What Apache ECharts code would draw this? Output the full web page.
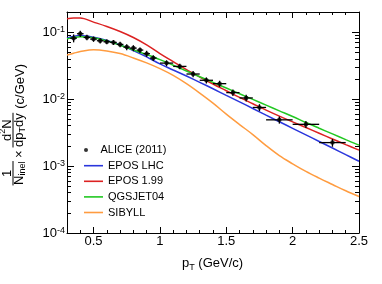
<!DOCTYPE html>
<html><head><meta charset="utf-8">
<script src="https://cdn.jsdelivr.net/npm/echarts@6/dist/echarts.min.js"></script>
<style>html,body{margin:0;padding:0;background:#fff}#c{width:382px;height:284px}</style>
</head><body><div id="c"></div>
<script>
const FONT = '"Liberation Sans", Arial, Helvetica, sans-serif';

// ALICE (2011) data points
const aliceX = [0.35,0.40,0.45,0.50,0.55,0.60,0.65,0.70,0.75,0.80,0.85,0.90,0.95,1.05,1.15,1.25,1.35,1.45,1.55,1.65,1.75,1.9,2.1,2.3];
const aliceY = [0.0814,0.0946,0.0834,0.0787,0.0744,0.0719,0.0703,0.0656,0.0598,0.0578,0.0540,0.0477,0.0410,0.0345,0.0308,0.0237,0.0191,0.0170,0.0125,0.0104,0.0075,0.0049,0.0042,0.00224];
const aliceXErr = [0.025,0.025,0.025,0.025,0.025,0.025,0.025,0.025,0.025,0.025,0.025,0.025,0.025,0.05,0.05,0.05,0.05,0.05,0.05,0.05,0.05,0.1,0.1,0.1];
const aliceYErr = [0.011,0.010,0.008,0.007,0.007,0.006,0.006,0.006,0.006,0.006,0.005,0.005,0.004,0.0035,0.003,0.0025,0.002,0.0018,0.0014,0.0012,0.0009,0.0006,0.0005,0.0003];

// model curves
const modelX = [0.3,0.35,0.4,0.5,0.6,0.7,0.8,0.9,1.0,1.1,1.2,1.3,1.4,1.5,1.6,1.7,1.8,1.9,2.0,2.1,2.2,2.3,2.4,2.5];
const eposLHC = [0.0813,0.0871,0.0895,0.0841,0.0750,0.0646,0.0531,0.0427,0.0335,0.0272,0.0221,0.0178,0.01426,0.01138,0.00908,0.00724,0.00575,0.00459,0.00366,0.00292,0.00233,0.00186,0.00148,0.00118];
const epos199 = [0.1585,0.1633,0.1633,0.1413,0.1216,0.1023,0.0832,0.0646,0.0479,0.0363,0.0275,0.0214,0.0168,0.01334,0.01059,0.00851,0.00684,0.00556,0.00457,0.00376,0.00309,0.00254,0.00209,0.00173];
const qgsjet04 = [0.0794,0.0832,0.0855,0.0822,0.0741,0.0638,0.0543,0.0462,0.0389,0.0320,0.0263,0.0216,0.01778,0.01462,0.01202,0.00989,0.00813,0.00668,0.00550,0.00447,0.00367,0.00302,0.00248,0.00205];
const sibyll = [0.0457,0.0484,0.0513,0.0547,0.0525,0.0479,0.0412,0.0347,0.0285,0.0226,0.0170,0.0123,0.00871,0.00596,0.00417,0.00295,0.00202,0.00143,0.00108,0.000832,0.000661,0.000531,0.000427,0.000351];

// ticks
const xMajorTicks = [0.5,1,1.5,2,2.5];
const xMinorTicks = [0.3,0.4,0.6,0.7,0.8,0.9,1.1,1.2,1.3,1.4,1.6,1.7,1.8,1.9,2.1,2.2,2.3,2.4];
const yMajorTicks = [0.0001,0.001,0.01,0.1];
const yMinorTicks = [0.0002,0.0003,0.0004,0.0005,0.0006,0.0007,0.0008,0.0009,0.002,0.003,0.004,0.005,0.006,0.007,0.008,0.009,0.02,0.03,0.04,0.05,0.06,0.07,0.08,0.09];

const X_MIN = 0.3, X_MAX = 2.5, Y_MIN = 0.0001, Y_MAX = 0.2;
const GRID = {left: 67, right: 23, top: 12, bottom: 51};

const ctx = document.createElement('canvas').getContext('2d');
function tw(t, s) { ctx.font = s + 'px ' + FONT; return ctx.measureText(t).width; }

function xAx(gi, pos, ticks, len, showLine, labels) {
  return {type: 'value', gridIndex: gi, position: pos, min: X_MIN, max: X_MAX,
    axisLine: {show: showLine, onZero: false, lineStyle: {color: '#000', width: 1}},
    axisTick: {show: true, inside: true, length: len, customValues: ticks, lineStyle: {color: '#000', width: 1}},
    axisLabel: labels ? {show: true, customValues: ticks, margin: 2, fontSize: 13, fontFamily: FONT, color: '#000', formatter: v => String(v)} : {show: false},
    splitLine: {show: false}};
}
function yAx(gi, pos, ticks, len, showLine, labels) {
  return {type: 'log', logBase: 10, gridIndex: gi, position: pos, min: Y_MIN, max: Y_MAX,
    axisLine: {show: showLine, onZero: false, lineStyle: {color: '#000', width: 1}},
    axisTick: {show: true, inside: true, length: len, customValues: ticks, lineStyle: {color: '#000', width: 1}},
    axisLabel: labels ? {show: true, customValues: ticks, margin: 2, fontFamily: FONT, color: '#000',
      formatter: v => '{b|10}{e|' + Math.round(Math.log10(v)) + '}',
      rich: {b: {fontSize: 13, lineHeight: 14, fontFamily: FONT, color: '#000', verticalAlign: 'bottom'},
             e: {fontSize: 9, lineHeight: 14, fontFamily: FONT, color: '#000', verticalAlign: 'top'}}} : {show: false},
    splitLine: {show: false}};
}

// y title graphic (rotated)
const S = 13, SS = 9;
const NUMV = 7, BARV = 13, DENV = 19.5, MAINV = 20.5, SUBD = 3.5;
const yt = [];
function T(text, x, y, size, align) {
  yt.push({type: 'text', x: x, y: y, style: {text: text, font: size + 'px ' + FONT, fill: '#000', align: align || 'left', verticalAlign: 'middle'}});
}
function L(x1, x2, y) { yt.push({type: 'line', shape: {x1: x1, y1: y, x2: x2, y2: y}, style: {stroke: '#000', lineWidth: 1}}); }
let u = 0;
const wDen1 = tw('N', S) + tw('inel', SS);
const f1 = wDen1 + 1;
T('1', f1 / 2, NUMV, S, 'center');
L(0, f1, BARV);
T('N', 0.5, DENV, S); T('inel', 0.5 + tw('N', S), DENV + SUBD, SS);
u = f1 + 3;
T('\u00d7', u, MAINV - 1, S); u += tw('\u00d7', S) + 3;
const wNum2 = tw('d', S) + tw('2', SS) + tw('N', S);
const wDen2 = tw('dp', S) + tw('T', SS) + tw('dy', S);
const f2 = Math.max(wNum2, wDen2) + 1;
let n0 = u + (f2 - wNum2) / 2;
T('d', n0, NUMV, S); n0 += tw('d', S); T('2', n0, NUMV - 4, SS); n0 += tw('2', SS); T('N', n0, NUMV, S);
L(u, u + f2, BARV);
let d0 = u + (f2 - wDen2) / 2;
T('dp', d0, DENV, S); d0 += tw('dp', S); T('T', d0, DENV + SUBD, SS); d0 += tw('T', SS); T('dy', d0, DENV, S);
u += f2 + 4;
T('(c/GeV)', u, MAINV, S);
const yLen = u + tw('(c/GeV)', S);
const Y_TOP = 64;

// x title
const xt = [];
let xs = 182;
xt.push({type: 'text', x: xs, y: 263, style: {text: 'p', font: S + 'px ' + FONT, fill: '#000', verticalAlign: 'middle'}});
xs += tw('p', S);
xt.push({type: 'text', x: xs, y: 267.5, style: {text: 'T', font: SS + 'px ' + FONT, fill: '#000', verticalAlign: 'middle'}});
xs += tw('T', SS);
xt.push({type: 'text', x: xs, y: 263, style: {text: ' (GeV/c)', font: S + 'px ' + FONT, fill: '#000', verticalAlign: 'middle'}});

const lineSeries = (name, data, color) => ({
  name: name, type: 'line', xAxisIndex: 0, yAxisIndex: 0, symbol: 'none', smooth: 0.35,
  data: modelX.map((x, i) => [x, data[i]]), lineStyle: {color: color, width: 1.5}, itemStyle: {color: color}, z: 2
});

const chart = echarts.init(document.getElementById('c'), null, {renderer: 'canvas'});
chart.setOption({
  animation: false,
  backgroundColor: '#fff',
  textStyle: {fontFamily: FONT},
  grid: [Object.assign({}, GRID), Object.assign({}, GRID)],
  xAxis: [xAx(0, 'bottom', xMajorTicks, 6, true, true), xAx(0, 'top', xMajorTicks, 6, true, false),
          xAx(1, 'bottom', xMinorTicks, 3, false, false), xAx(1, 'top', xMinorTicks, 3, false, false)],
  yAxis: [yAx(0, 'left', yMajorTicks, 7, true, true), yAx(0, 'right', yMajorTicks, 7, true, false),
          yAx(1, 'left', yMinorTicks, 4, false, false), yAx(1, 'right', yMinorTicks, 4, false, false)],
  legend: [
    {data: [{name: 'ALICE (2011)', icon: 'circle'}], orient: 'vertical', left: 84, top: 143, padding: 0, itemWidth: 19, itemHeight: 4,
     selectedMode: false, textStyle: {fontSize: 11, lineHeight: 14, fontFamily: FONT, color: '#000'}},
    {data: ['EPOS LHC', 'EPOS 1.99', 'QGSJET04', 'SIBYLL'].map(n => ({name: n, icon: 'rect'})),
     orient: 'vertical', left: 84, top: 158.7, padding: 0,
     itemWidth: 19, itemHeight: 1.6, itemGap: 1.6, selectedMode: false,
     textStyle: {fontSize: 11, lineHeight: 14, fontFamily: FONT, color: '#000'}}
  ],
  series: [
    lineSeries('EPOS LHC', eposLHC, '#2a36dc'),
    lineSeries('EPOS 1.99', epos199, '#dc2222'),
    lineSeries('QGSJET04', qgsjet04, '#22c822'),
    lineSeries('SIBYLL', sibyll, '#ff9c40'),
    {type: 'custom', xAxisIndex: 0, yAxisIndex: 0, z: 5,
     data: aliceX.map((x, i) => [x, aliceY[i], aliceXErr[i], aliceYErr[i]]),
     encode: {x: 0, y: 1},
     renderItem: (params, api) => {
       const x = api.value(0), y = api.value(1), ex = api.value(2), ey = api.value(3);
       const a = api.coord([x - ex, y]), b = api.coord([x + ex, y]);
       const c = api.coord([x, y - ey]), d = api.coord([x, y + ey]);
       return {type: 'group', children: [
         {type: 'line', shape: {x1: a[0], y1: a[1], x2: b[0], y2: b[1]}, style: {stroke: '#000', lineWidth: 1.3}},
         {type: 'line', shape: {x1: c[0], y1: c[1], x2: d[0], y2: d[1]}, style: {stroke: '#000', lineWidth: 1.3}}
       ]};
     }},
    {name: 'ALICE (2011)', type: 'scatter', xAxisIndex: 0, yAxisIndex: 0, symbol: 'circle', symbolSize: 4.5, z: 6,
     itemStyle: {color: '#000'}, data: aliceX.map((x, i) => [x, aliceY[i]])}
  ],
  graphic: [
    {type: 'group', x: 0, y: Y_TOP + yLen, rotation: Math.PI / 2, children: yt},
    {type: 'group', children: xt}
  ]
});
</script></body></html>
